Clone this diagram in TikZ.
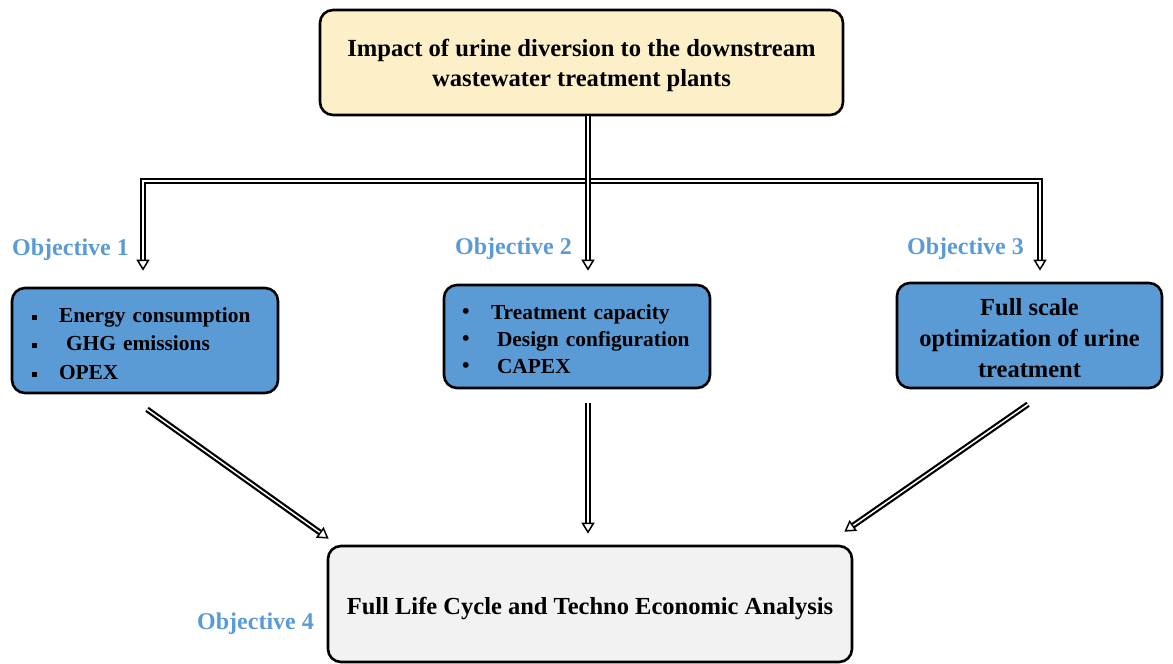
\documentclass[tikz,border=0pt]{standalone}
\usepackage{fontspec}
\setmainfont{Liberation Serif}
\usetikzlibrary{arrows.meta}
\definecolor{objblue}{HTML}{5B9BD5}
\definecolor{topyellow}{HTML}{FDF0C9}
\definecolor{boxgray}{HTML}{F2F2F2}
\newcommand{\sqb}{\rule[0.25ex]{5pt}{5pt}}
\newcommand{\rdb}{\raisebox{0.1ex}{\textbullet}}

\begin{document}
\begin{tikzpicture}[x=1pt,y=-1pt,
  box/.style={draw, line width=2.6pt, rounded corners=13pt, inner sep=0pt},
  txt/.style={inner sep=0pt, yshift=-3pt},
  dbl/.style={double, double distance=1.5pt, line width=2.2pt, line join=miter},
  tip/.style={-{Triangle[open,fill=white,line width=1.5pt,length=11pt,width=13pt]}},
  tips/.style={{Triangle[open,fill=white,line width=1.5pt,length=11pt,width=13pt]}-{Triangle[open,fill=white,line width=1.5pt,length=11pt,width=13pt]}},
  obj/.style={text=objblue, font=\fontsize{24}{26}\selectfont\bfseries, inner sep=0pt}]
\useasboundingbox (0,0) rectangle (1173,664);

\node[box, fill=topyellow, minimum width=523pt, minimum height=105pt] (top) at (581.5,62.5) {};
\node[txt, align=center, font=\fontsize{24.6}{30}\selectfont\bfseries] (toptext) at (top.center)
  {Impact of urine diversion to the downstream\\wastewater treatment plants};

\node[box, fill=objblue, minimum width=266pt, minimum height=105pt] (obj1) at (145,340.5) {};
\node[txt, text width=226pt, align=left, font=\fontsize{21.4}{28.5}\selectfont\bfseries] (obj1text) at (obj1.center)
  {\makebox[27pt][l]{\sqb}Energy consumption\\
   \makebox[27pt][l]{\sqb}\hspace{7pt}GHG emissions\\
   \makebox[27pt][l]{\sqb}OPEX};

\node[box, fill=objblue, minimum width=266pt, minimum height=103pt] (obj2) at (577,336.5) {};
\node[txt, text width=230pt, align=left, font=\fontsize{21.4}{27}\selectfont\bfseries] (obj2text) at (obj2.center)
  {\makebox[29pt][l]{\rdb}Treatment capacity\\
   \makebox[29pt][l]{\rdb}\hspace{6pt}Design configuration\\
   \makebox[29pt][l]{\rdb}\hspace{6pt}CAPEX};

\node[box, fill=objblue, minimum width=265pt, minimum height=105pt] (obj3) at (1029.5,335.5) {};
\node[txt, align=center, font=\fontsize{24.5}{31}\selectfont\bfseries] (obj3text) at (obj3.center)
  {Full scale\\optimization of urine\\treatment};

\node[box, fill=boxgray, minimum width=524pt, minimum height=116pt] (bottom) at (590,604) {};
\node[txt, yshift=-2pt, font=\fontsize{24.5}{28}\selectfont\bfseries] (bottomtext) at (bottom.center)
  {Full Life Cycle and Techno Economic Analysis};

\node[obj, anchor=west] (lab1) at (12,250) {Objective 1};
\node[obj, anchor=west] (lab2) at (455,249) {Objective 2};
\node[obj, anchor=west] (lab3) at (907,249) {Objective 3};
\node[obj, anchor=west] (lab4) at (197,624) {Objective 4};

% split of the top arrow
\coordinate (split) at (588,181);
\draw[dbl, tips] ([yshift=16pt]obj1.north -| 143,0) -- (143,181) -- (1040,181) -- ([yshift=11pt]obj3.north -| 1040,0);
\draw[dbl, tip] (top.south -| split) -- ([yshift=13pt]obj2.north -| split);

\draw[dbl, tip] ([shift={(2,15)}]obj1.south) -- ([shift={(2,-6)}]bottom.north west);
\draw[dbl, tip] ([yshift=-14pt]obj2.south -| split) -- ([yshift=11pt]bottom.north -| split);
\draw[dbl, tip] ([shift={(-1.5,15)}]obj3.south) -- ([shift={(-9,-13)}]bottom.north east);
\end{tikzpicture}
\end{document}
